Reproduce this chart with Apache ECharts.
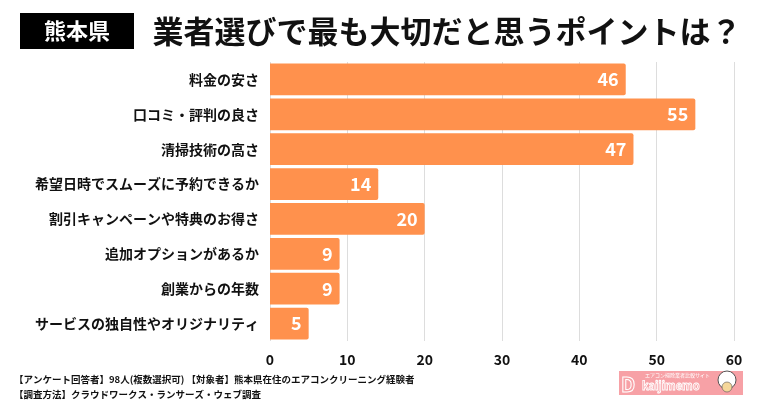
<!DOCTYPE html>
<html><head><meta charset="utf-8">
<script src="https://cdn.jsdelivr.net/npm/echarts@6/dist/echarts.min.js"></script>
<style>html,body{margin:0;padding:0;background:#fff}#c{width:760px;height:400px}</style>
</head><body><div id="c"></div>
<script>
const categories = ['料金の安さ','口コミ・評判の良さ','清掃技術の高さ','希望日時でスムーズに予約できるか','割引キャンペーンや特典のお得さ','追加オプションがあるか','創業からの年数','サービスの独自性やオリジナリティ'];
const values = [46,55,47,14,20,9,9,5];
const xTicks = [0,10,20,30,40,50,60];
const F = '"Noto Sans CJK JP","Noto Sans",sans-serif';
const chart = echarts.init(document.getElementById('c'));
chart.setOption({
  animation:false,
  textStyle:{fontFamily:F},
  grid:{left:270,right:26,top:62,height:279,containLabel:false},
  xAxis:{type:'value',min:xTicks[0],max:xTicks[xTicks.length-1],interval:10,
    axisLine:{show:false},axisTick:{show:false},
    splitLine:{lineStyle:{color:'#dddddd',width:1}},
    axisLabel:{color:'#111',fontWeight:'bold',fontSize:14,margin:12,fontFamily:F}},
  yAxis:{type:'category',inverse:true,data:categories,
    axisLine:{show:false},axisTick:{show:false},
    axisLabel:{color:'#111',fontWeight:'bold',fontSize:14,margin:11,fontFamily:F}},
  series:[{type:'bar',data:values,barCategoryGap:'9%',
    itemStyle:{color:'#FF914D',borderRadius:[0,2,2,0]},
    label:{show:true,position:'insideRight',color:'#fff',fontWeight:'bold',fontSize:18,offset:[-2,0],fontFamily:F}}],
  graphic:[
    {type:'rect',shape:{x:20,y:13,width:114,height:36},style:{fill:'#000'}},
    {type:'text',x:77,y:31,style:{text:'熊本県',fill:'#fff',font:'bold 22px '+F,align:'center',verticalAlign:'middle'}},
    {type:'text',x:447,y:31,style:{text:'業者選びで最も大切だと思うポイントは？',fill:'#111',font:'bold 31px '+F,align:'center',verticalAlign:'middle'}},
    {type:'text',x:14,y:379,style:{text:'【アンケート回答者】98人(複数選択可) 【対象者】熊本県在住のエアコンクリーニング経験者',fill:'#111',font:'bold 9.5px '+F,verticalAlign:'middle'}},
    {type:'text',x:14,y:394,style:{text:'【調査方法】クラウドワークス・ランサーズ・ウェブ調査',fill:'#111',font:'bold 9.5px '+F,verticalAlign:'middle'}},
    {type:'rect',shape:{x:619,y:371,width:124,height:24},style:{fill:'#F7A1A6'}},
    {type:'text',x:645,y:375,style:{text:'エアコン掃除業者比較サイト',fill:'#fff',font:'5px '+F,verticalAlign:'middle'}},
    {type:'text',x:621,y:384,style:{text:'D',fill:'none',stroke:'#fff',lineWidth:1,font:'bold 20px '+F,verticalAlign:'middle'}},
    {type:'text',x:642,y:386,style:{text:'kaijimemo',fill:'none',stroke:'#fff',lineWidth:0.8,font:'bold 11px '+F,verticalAlign:'middle'}},
    {type:'circle',shape:{cx:727,cy:380,r:9},style:{fill:'#fff',stroke:'#555',lineWidth:1}},
    {type:'circle',shape:{cx:727,cy:387,r:5},style:{fill:'#F5D79A',stroke:'#555',lineWidth:0.6}}
  ]
});
</script></body></html>
